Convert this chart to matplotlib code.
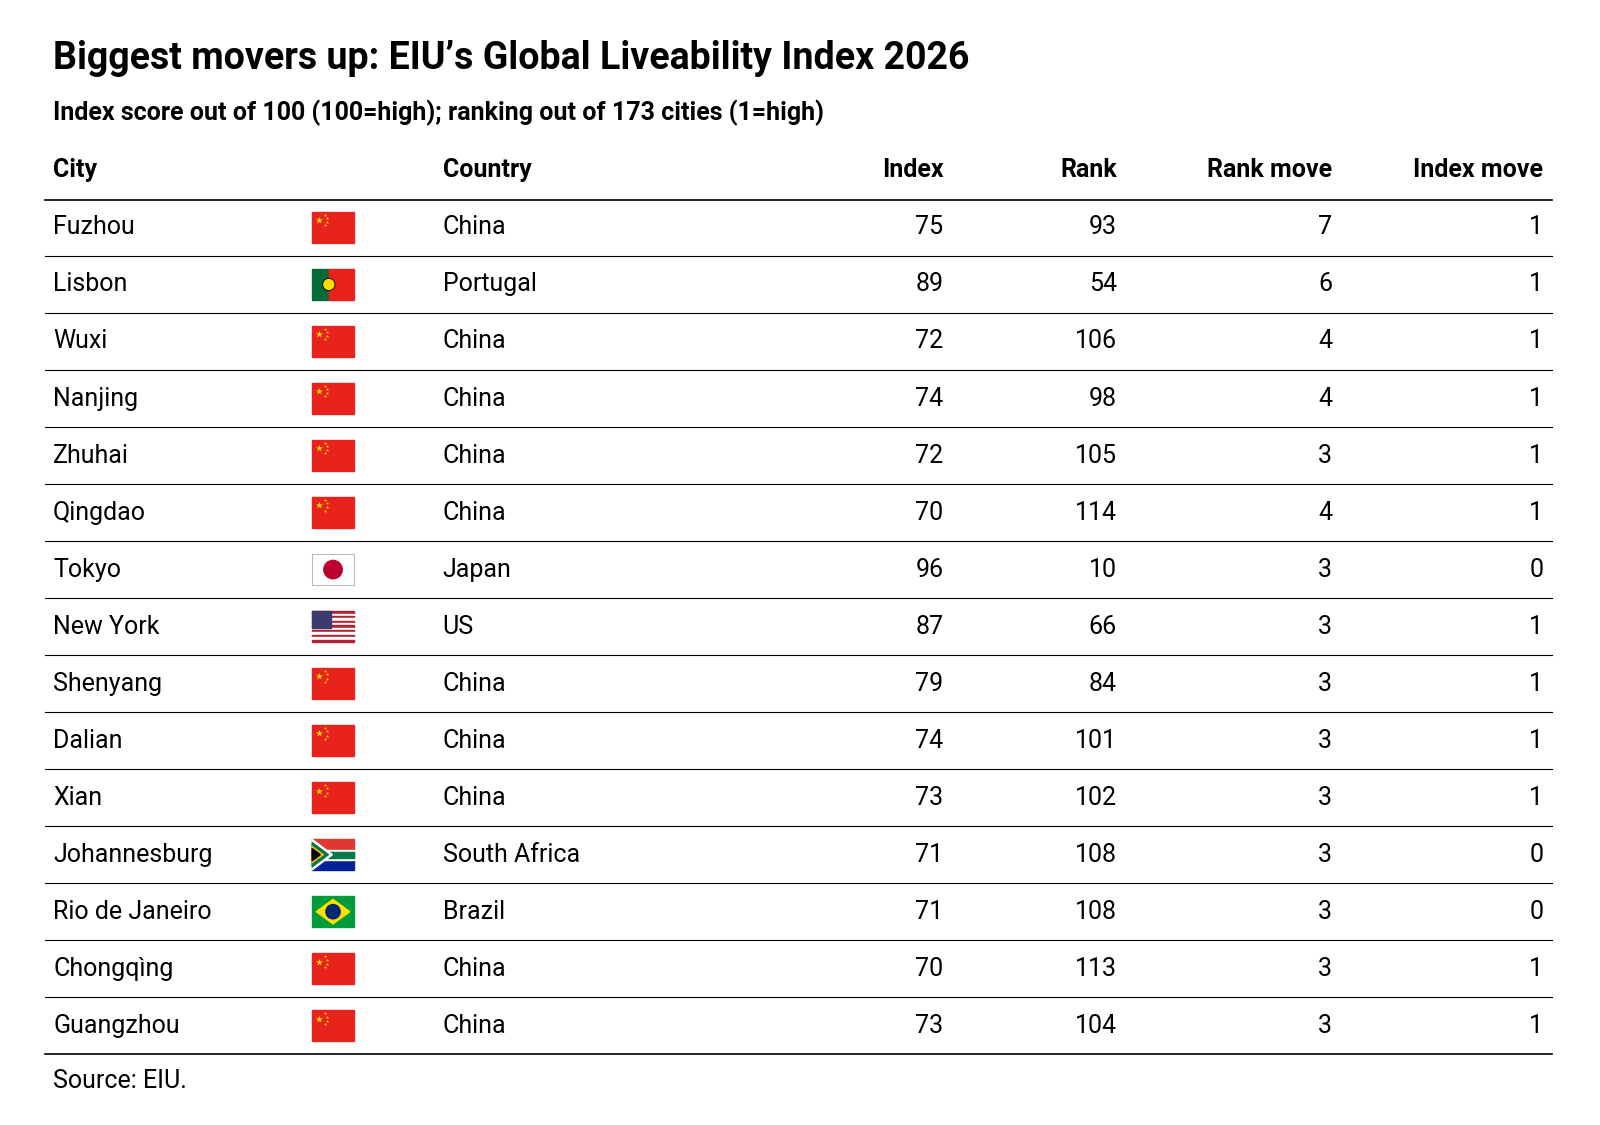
import matplotlib

matplotlib.use("Agg")
import matplotlib.pyplot as plt
from matplotlib.patches import Rectangle, Circle, Polygon

CITIES = ["Fuzhou", "Lisbon", "Wuxi", "Nanjing", "Zhuhai", "Qingdao", "Tokyo", "New York",
          "Shenyang", "Dalian", "Xian", "Johannesburg", "Rio de Janeiro", "Chongqìng", "Guangzhou"]
COUNTRIES = ["China", "Portugal", "China", "China", "China", "China", "Japan", "US",
             "China", "China", "China", "South Africa", "Brazil", "China", "China"]
INDEX = [75, 89, 72, 74, 72, 70, 96, 87, 79, 74, 73, 71, 71, 70, 73]
RANK = [93, 54, 106, 98, 105, 114, 10, 66, 84, 101, 102, 108, 108, 113, 104]
RANK_MOVE = [7, 6, 4, 4, 3, 4, 3, 3, 3, 3, 3, 3, 3, 3, 3]
INDEX_MOVE = [1, 1, 1, 1, 1, 1, 0, 1, 1, 1, 1, 0, 0, 1, 1]

plt.rcParams["font.family"] = ["Roboto", "DejaVu Sans"]
RED = "#e8231e"
SCALE = 1.02  # layout was measured on a slightly shrunken view


def flag(ax, country, x, y, w=41, h=30):
    top = y - h / 2
    if country == "China":
        ax.add_patch(Rectangle((x, top), w, h, color=RED))
        ax.scatter([x + 7], [top + 8], marker="*", s=28, color="#ffde00", zorder=3, lw=0)
        ax.scatter([x + 13, x + 15, x + 15, x + 13], [top + 3, top + 6, top + 10, top + 13],
                   marker="*", s=6, color="#ffde00", zorder=3, lw=0)
    elif country == "Portugal":
        ax.add_patch(Rectangle((x, top), w * 0.4, h, color="#046a38"))
        ax.add_patch(Rectangle((x + w * 0.4, top), w * 0.6, h, color=RED))
        ax.add_patch(Circle((x + w * 0.4, y), 6, facecolor="#ffde00", edgecolor="black", lw=0.6, zorder=3))
    elif country == "Japan":
        ax.add_patch(Rectangle((x, top), w, h, facecolor="white", edgecolor="#bbbbbb", lw=0.8))
        ax.add_patch(Circle((x + w / 2, y), 9, color="#bc002d", zorder=3))
    elif country == "US":
        for i in range(13):
            ax.add_patch(Rectangle((x, top + i * h / 13), w, h / 13,
                                   color="#b22234" if i % 2 == 0 else "white"))
        ax.add_patch(Rectangle((x, top), w * 0.45, h * 7 / 13, color="#3c3b6e", zorder=3))
    elif country == "South Africa":
        ax.add_patch(Rectangle((x, top), w, h / 2, color="#de3831"))
        ax.add_patch(Rectangle((x, y), w, h / 2, color="#002395"))
        ax.add_patch(Rectangle((x, y - 5), w, 10, color="white", zorder=2))
        ax.add_patch(Rectangle((x, y - 3), w, 6, color="#007a4d", zorder=3))
        ax.add_patch(Polygon([(x, top), (x + 20, y), (x, top + h)], color="white", zorder=3))
        ax.add_patch(Polygon([(x, top + 3), (x + 16, y), (x, top + h - 3)], color="#007a4d", zorder=4))
        ax.add_patch(Polygon([(x, top + 7), (x + 11, y), (x, top + h - 7)], color="#ffb612", zorder=5))
        ax.add_patch(Polygon([(x, top + 9), (x + 8, y), (x, top + h - 9)], color="black", zorder=6))
    elif country == "Brazil":
        ax.add_patch(Rectangle((x, top), w, h, color="#009c3b"))
        ax.add_patch(Polygon([(x + 4, y), (x + w / 2, top + 3), (x + w - 4, y), (x + w / 2, top + h - 3)],
                             color="#ffdf00", zorder=3))
        ax.add_patch(Circle((x + w / 2, y), 7, color="#002776", zorder=4))


fig = plt.figure(figsize=(16, 11.25), dpi=100)
ax = fig.add_axes([0, 0, 1, 1])
ax.set_xlim(0, 1600 / SCALE)
ax.set_ylim(1125 / SCALE, 0)
ax.axis("off")

ax.text(52, 57, "Biggest movers up: EIU’s Global Liveability Index 2026", fontsize=27,
        fontweight="bold", va="center", ha="left")
ax.text(52, 111, "Index score out of 100 (100=high); ranking out of 173 cities (1=high)",
        fontsize=18, fontweight="bold", va="center", ha="left")

hy = 167
for label, x, ha in [("City", 52, "left"), ("Country", 434, "left"), ("Index", 925, "right"),
                     ("Rank", 1095, "right"), ("Rank move", 1306, "right"), ("Index move", 1513, "right")]:
    ax.text(x, hy, label, fontsize=18, fontweight="bold", va="center", ha=ha)
ax.plot([44, 1522], [196, 196], color="black", lw=1.2)

row_h = 55.9
for i, city in enumerate(CITIES):
    y = 223 + i * row_h
    ax.text(52, y, city, fontsize=18, va="center", ha="left")
    flag(ax, COUNTRIES[i], 306, y)
    ax.text(434, y, COUNTRIES[i], fontsize=18, va="center", ha="left")
    ax.text(925, y, str(INDEX[i]), fontsize=18, va="center", ha="right")
    ax.text(1095, y, str(RANK[i]), fontsize=18, va="center", ha="right")
    ax.text(1306, y, str(RANK_MOVE[i]), fontsize=18, va="center", ha="right")
    ax.text(1513, y, str(INDEX_MOVE[i]), fontsize=18, va="center", ha="right")
    ly = y + row_h / 2
    ax.plot([44, 1522], [ly, ly], color="black", lw=1.2 if i == len(CITIES) - 1 else 0.8)

ax.text(52, 1060, "Source: EIU.", fontsize=18, va="center", ha="left")

fig.savefig("out.png")
